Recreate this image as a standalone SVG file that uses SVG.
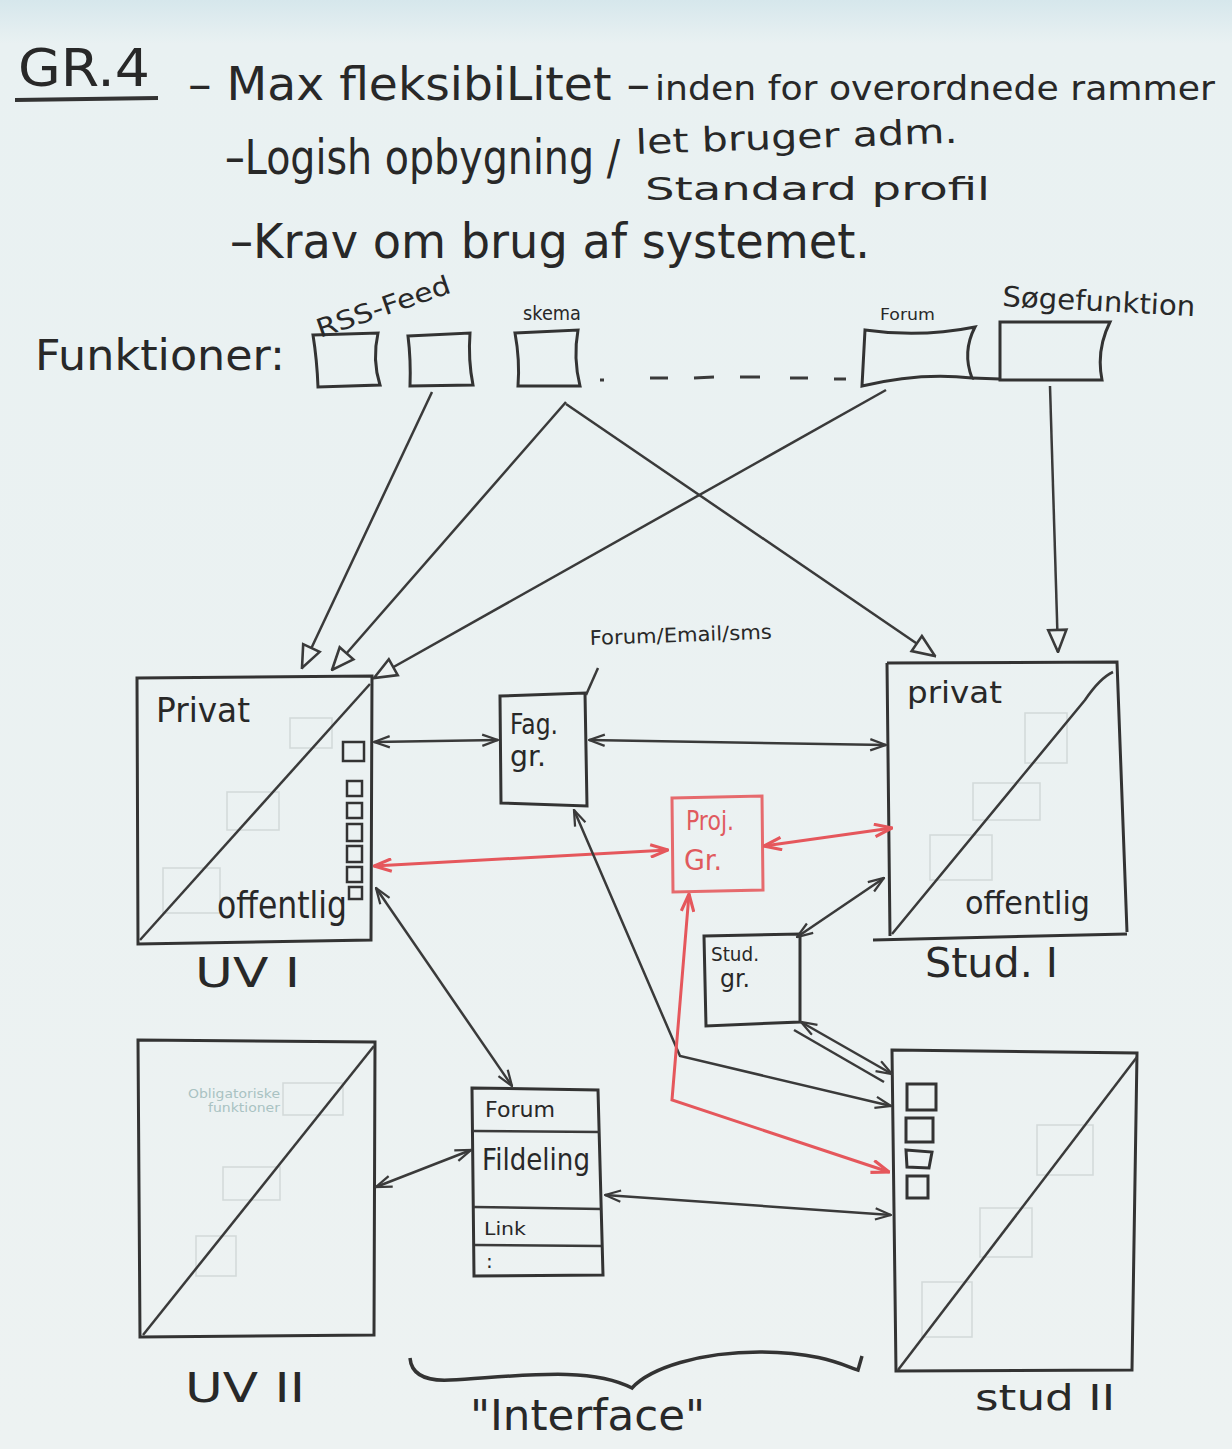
<svg xmlns="http://www.w3.org/2000/svg" width="1232" height="1449" viewBox="0 0 1232 1449">
<defs>
<linearGradient id="bg" x1="0" y1="0" x2="0" y2="1">
<stop offset="0" stop-color="#d6e7ec"/>
<stop offset="0.03" stop-color="#e9f1f2"/>
<stop offset="1" stop-color="#edf2f2"/>
</linearGradient>
<marker id="tri" viewBox="0 0 20 20" refX="19" refY="10" markerWidth="26" markerHeight="26" orient="auto" markerUnits="userSpaceOnUse">
<path d="M2,3 L19,10 L2,17 Z" fill="#edf2f2" stroke="#3a3a3a" stroke-width="2"/>
</marker>
<marker id="v" viewBox="0 0 16 12" refX="15" refY="6" markerWidth="18" markerHeight="14" orient="auto-start-reverse" markerUnits="userSpaceOnUse">
<path d="M1,1 L15,6 L1,11" fill="none" stroke="#3a3a3a" stroke-width="2"/>
</marker>
<marker id="vr" viewBox="0 0 16 12" refX="15" refY="6" markerWidth="20" markerHeight="15" orient="auto-start-reverse" markerUnits="userSpaceOnUse">
<path d="M1,1 L15,6 L1,11" fill="none" stroke="#e5575c" stroke-width="2.5"/>
</marker>
</defs>
<style>
.t{font-family:"DejaVu Sans","Liberation Sans",sans-serif;fill:#282828}
.ln{stroke:#3a3a3a;stroke-width:2.5;fill:none}
.rl{stroke:#e5575c;stroke-width:3;fill:none}
.bx{stroke:#333;stroke-width:3;fill:none}
.gh{stroke:#d2d9d9;stroke-width:1.5;fill:none}
</style>
<rect width="1232" height="1449" fill="url(#bg)"/>

<g id="header">
<text class="t" x="18" y="86" font-size="52" textLength="132" lengthAdjust="spacingAndGlyphs">GR.4</text>
<path d="M15,100 L158,98" stroke="#333" stroke-width="4"/>
<text class="t" x="188" y="100" font-size="46" textLength="462" lengthAdjust="spacingAndGlyphs">– Max fleksibiLitet –</text>
<text class="t" x="655" y="100" font-size="34" textLength="560" lengthAdjust="spacingAndGlyphs">inden for overordnede rammer</text>
<text class="t" x="225" y="174" font-size="48" textLength="395" lengthAdjust="spacingAndGlyphs">–Logish opbygning /</text>
<text class="t" x="636" y="154" font-size="34" textLength="322" lengthAdjust="spacingAndGlyphs" transform="rotate(-2 636 154)">let bruger adm.</text>
<text class="t" x="645" y="200" font-size="32" textLength="345" lengthAdjust="spacingAndGlyphs">Standard profil</text>
<text class="t" x="230" y="258" font-size="48" textLength="640" lengthAdjust="spacingAndGlyphs">–Krav om brug af systemet.</text>
<text class="t" x="35" y="370" font-size="42" textLength="250" lengthAdjust="spacingAndGlyphs">Funktioner:</text>
</g>

<g id="funktioner">
<path class="bx" d="M313,335 L378,333 Q372,360 380,385 L318,387 Q317,360 313,335 Z"/>
<path class="bx" d="M408,336 L470,333 Q468,360 473,385 L410,386 Q411,360 408,336 Z"/>
<text class="t" x="320" y="338" font-size="26" textLength="140" lengthAdjust="spacingAndGlyphs" transform="rotate(-19 320 338)">RSS-Feed</text>
<path class="bx" d="M515,333 L578,330 Q573,358 580,386 L518,386 Q520,360 515,333 Z"/>
<text class="t" x="523" y="320" font-size="20" textLength="58" lengthAdjust="spacingAndGlyphs">skema</text>
<path d="M600,380 L604,380 M650,378 L668,378 M694,378 L714,377 M740,377 L760,377 M790,378 L808,378 M834,379 L846,379" stroke="#3a3a3a" stroke-width="3"/>
<path class="bx" d="M865,330 Q920,338 975,327 Q962,352 972,378 Q920,372 862,386 Z"/>
<text class="t" x="880" y="320" font-size="16" textLength="55" lengthAdjust="spacingAndGlyphs">Forum</text>
<path class="bx" d="M972,378 L1000,379"/>
<path class="bx" d="M1000,322 L1110,322 Q1096,350 1102,380 L1000,380 Z"/>
<text class="t" x="1002" y="306" font-size="28" textLength="193" lengthAdjust="spacingAndGlyphs" transform="rotate(3 1002 306)">Søgefunktion</text>
</g>

<g id="uv1">
<rect class="gh" x="290" y="718" width="42" height="30"/>
<rect class="gh" x="227" y="792" width="52" height="38"/>
<rect class="gh" x="163" y="868" width="57" height="45"/>
<path class="bx" d="M137,678 L372,676 L371,940 L138,944 Z"/>
<path class="ln" d="M140,940 L370,684"/>
<text class="t" x="156" y="722" font-size="34" textLength="94" lengthAdjust="spacingAndGlyphs">Privat</text>
<text class="t" x="217" y="918" font-size="38" textLength="130" lengthAdjust="spacingAndGlyphs">offentlig</text>
<rect x="343" y="742" width="21" height="19" fill="none" stroke="#333" stroke-width="2.5"/>
<rect x="347" y="781" width="15" height="15" fill="none" stroke="#333" stroke-width="2.5"/>
<rect x="347" y="803" width="15" height="15" fill="none" stroke="#333" stroke-width="2.5"/>
<rect x="347" y="824" width="15" height="17" fill="none" stroke="#333" stroke-width="2.5"/>
<rect x="347" y="846" width="15" height="16" fill="none" stroke="#333" stroke-width="2.5"/>
<rect x="347" y="867" width="15" height="15" fill="none" stroke="#333" stroke-width="2.5"/>
<rect x="349" y="887" width="13" height="12" fill="none" stroke="#333" stroke-width="2.5"/>
<text class="t" x="195" y="987" font-size="40" textLength="105" lengthAdjust="spacingAndGlyphs">UV I</text>
</g>

<g id="faggr">
<path class="bx" d="M500,696 L585,693 L587,806 L501,803 Z"/>
<text class="t" x="510" y="734" font-size="28" textLength="48" lengthAdjust="spacingAndGlyphs">Fag.</text>
<text class="t" x="510" y="766" font-size="28" textLength="36" lengthAdjust="spacingAndGlyphs">gr.</text>
<path class="ln" d="M586,695 L598,668"/>
<text class="t" x="590" y="645" font-size="20" textLength="182" lengthAdjust="spacingAndGlyphs" transform="rotate(-2 590 645)">Forum/Email/sms</text>
</g>

<g id="projgr">
<path d="M672,798 L762,796 L763,890 L673,892 Z" fill="none" stroke="#e66a6d" stroke-width="3"/>
<text x="686" y="830" font-size="26" textLength="48" lengthAdjust="spacingAndGlyphs" font-family="DejaVu Sans, sans-serif" fill="#e05a5e">Proj.</text>
<text x="684" y="870" font-size="28" textLength="38" lengthAdjust="spacingAndGlyphs" font-family="DejaVu Sans, sans-serif" fill="#e05a5e">Gr.</text>
</g>

<g id="studgr">
<path class="bx" d="M704,936 L800,934 L800,1022 L706,1026 Z"/>
<text class="t" x="711" y="961" font-size="20" textLength="48" lengthAdjust="spacingAndGlyphs">Stud.</text>
<text class="t" x="720" y="987" font-size="24" textLength="30" lengthAdjust="spacingAndGlyphs">gr.</text>
</g>

<g id="stud1">
<rect class="gh" x="1025" y="713" width="42" height="50"/>
<rect class="gh" x="973" y="783" width="67" height="37"/>
<rect class="gh" x="930" y="835" width="62" height="45"/>
<path class="bx" d="M887,663 L1117,662 L1127,932"/>
<path class="bx" d="M887,663 L890,936 M873,940 L1127,934"/>
<path class="ln" d="M892,934 L1085,700 Q1100,678 1113,672"/>
<text class="t" x="907" y="703" font-size="30" textLength="95" lengthAdjust="spacingAndGlyphs">privat</text>
<text class="t" x="965" y="914" font-size="32" textLength="125" lengthAdjust="spacingAndGlyphs">offentlig</text>
<text class="t" x="925" y="977" font-size="40" textLength="133" lengthAdjust="spacingAndGlyphs">Stud. I</text>
</g>

<g id="uv2">
<rect class="gh" x="283" y="1083" width="60" height="32"/>
<text x="188" y="1098" font-size="12" textLength="92" lengthAdjust="spacingAndGlyphs" font-family="DejaVu Sans, sans-serif" fill="#a9c2c2">Obligatoriske</text>
<text x="208" y="1112" font-size="12" textLength="72" lengthAdjust="spacingAndGlyphs" font-family="DejaVu Sans, sans-serif" fill="#a9c2c2">funktioner</text>
<rect class="gh" x="223" y="1167" width="57" height="33"/>
<rect class="gh" x="196" y="1236" width="40" height="40"/>
<path class="bx" d="M138,1040 L375,1042 L374,1335 L140,1337 Z"/>
<path class="ln" d="M143,1335 L374,1046"/>
<text class="t" x="185" y="1402" font-size="40" textLength="120" lengthAdjust="spacingAndGlyphs">UV II</text>
</g>

<g id="interface">
<path class="bx" d="M472,1088 L598,1090 L603,1275 L474,1276 Z"/>
<path class="ln" d="M474,1131 L600,1132 M474,1207 L601,1209 M475,1245 L601,1246"/>
<text class="t" x="485" y="1117" font-size="22" textLength="70" lengthAdjust="spacingAndGlyphs">Forum</text>
<text class="t" x="482" y="1170" font-size="30" textLength="108" lengthAdjust="spacingAndGlyphs">Fildeling</text>
<text class="t" x="484" y="1235" font-size="18" textLength="42" lengthAdjust="spacingAndGlyphs">Link</text>
<text class="t" x="486" y="1268" font-size="20">:</text>
<path d="M410,1358 Q412,1382 450,1380 C520,1376 590,1366 632,1388 C650,1368 700,1352 760,1352 C820,1352 845,1366 858,1370 L862,1356" fill="none" stroke="#333" stroke-width="3.5"/>
<text class="t" x="470" y="1430" font-size="42" textLength="235" lengthAdjust="spacingAndGlyphs">"Interface"</text>
</g>

<g id="stud2">
<rect class="gh" x="1037" y="1125" width="56" height="50"/>
<rect class="gh" x="980" y="1208" width="52" height="49"/>
<rect class="gh" x="922" y="1282" width="50" height="55"/>
<path class="bx" d="M892,1050 L1137,1053 L1132,1370 L896,1371 Z"/>
<path class="ln" d="M898,1370 L1137,1057"/>
<rect x="907" y="1084" width="29" height="26" fill="none" stroke="#333" stroke-width="3"/>
<rect x="906" y="1118" width="27" height="24" fill="none" stroke="#333" stroke-width="3"/>
<path d="M906,1150 L932,1152 L929,1168 L907,1167 Z" fill="none" stroke="#333" stroke-width="3"/>
<rect x="907" y="1176" width="21" height="22" fill="none" stroke="#333" stroke-width="3"/>
<text class="t" x="975" y="1410" font-size="36" textLength="140" lengthAdjust="spacingAndGlyphs">stud II</text>
</g>

<g id="connectors">
<path class="ln" d="M432,392 L302,668" marker-end="url(#tri)"/>
<path class="ln" d="M566,402 L332,670" marker-end="url(#tri)"/>
<path class="ln" d="M886,390 L374,678" marker-end="url(#tri)"/>
<path class="ln" d="M566,404 L935,656" marker-end="url(#tri)"/>
<path class="ln" d="M1050,386 L1058,652" marker-end="url(#tri)"/>
<path class="ln" d="M374,742 L498,740" marker-start="url(#v)" marker-end="url(#v)"/>
<path class="ln" d="M589,740 L886,745" marker-start="url(#v)" marker-end="url(#v)"/>
<path class="rl" d="M374,866 L668,850" marker-start="url(#vr)" marker-end="url(#vr)"/>
<path class="rl" d="M764,846 L892,828" marker-start="url(#vr)" marker-end="url(#vr)"/>
<path class="ln" d="M884,878 L797,937" marker-start="url(#v)" marker-end="url(#v)"/>
<path class="ln" d="M376,888 L512,1086" marker-start="url(#v)" marker-end="url(#v)"/>
<path class="ln" d="M574,810 L680,1056 L891,1106" marker-start="url(#v)" marker-end="url(#v)"/>
<path class="ln" d="M801,1022 L892,1074" marker-start="url(#v)" marker-end="url(#v)"/>
<path class="ln" d="M794,1030 L884,1082"/>
<path class="rl" d="M689,894 L672,1100 L889,1172" marker-start="url(#vr)" marker-end="url(#vr)"/>
<path class="ln" d="M376,1187 L471,1150" marker-start="url(#v)" marker-end="url(#v)"/>
<path class="ln" d="M605,1195 L891,1215" marker-start="url(#v)" marker-end="url(#v)"/>
</g>
</svg>
